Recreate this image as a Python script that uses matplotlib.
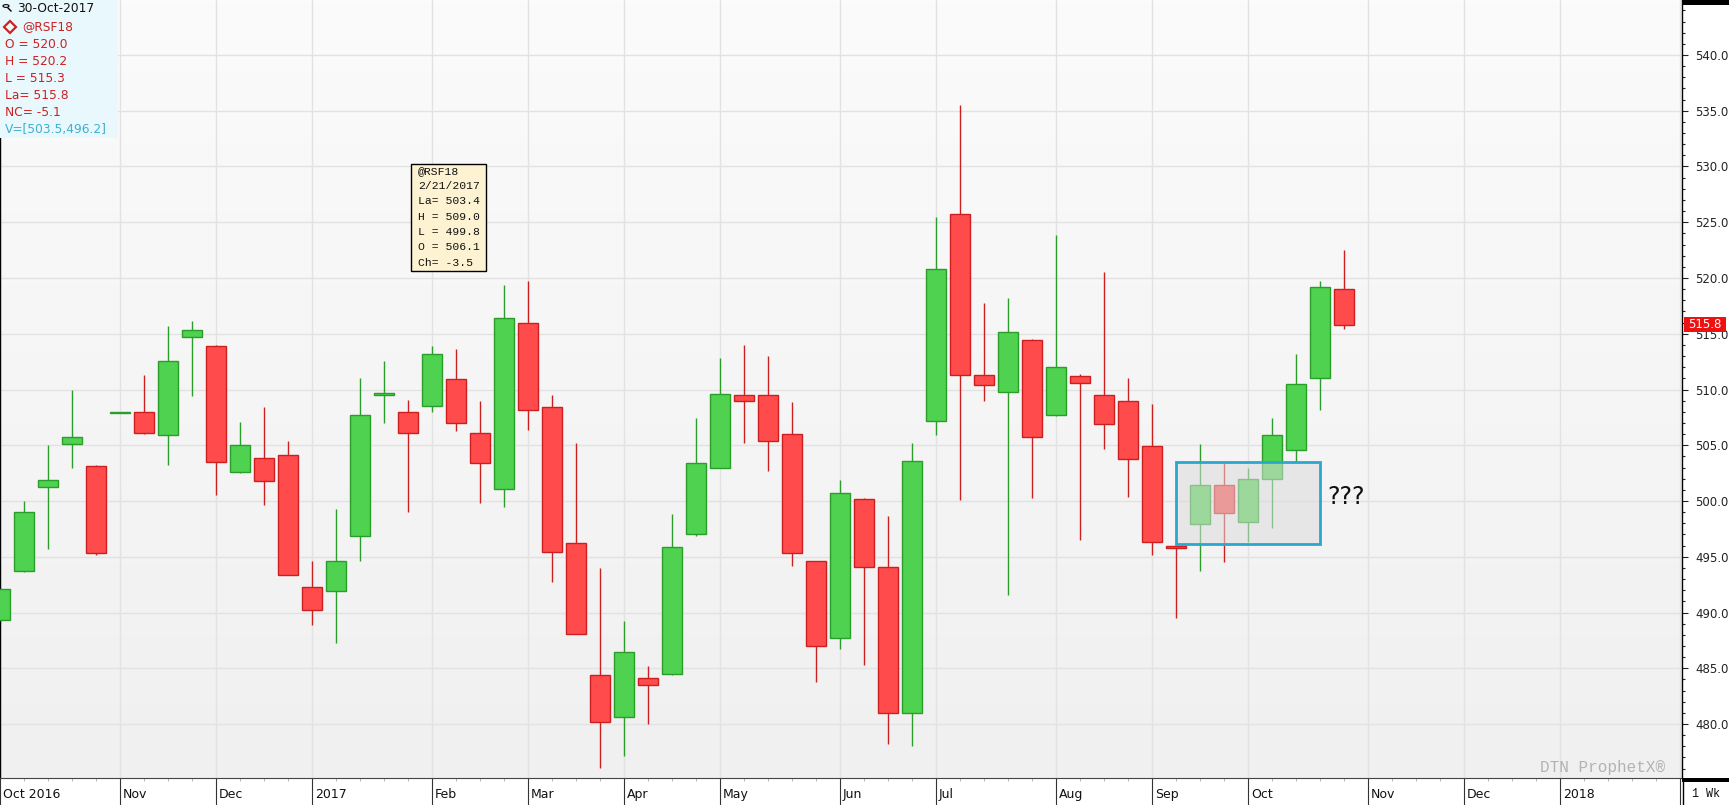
import numpy as np
import pandas as pd
import matplotlib
matplotlib.use("Agg")
import matplotlib.pyplot as plt
from matplotlib.patches import Rectangle
from matplotlib.colors import LinearSegmentedColormap
from matplotlib.transforms import blended_transform_factory
from matplotlib.ticker import MultipleLocator, FixedLocator

W, H, DPI = 1729, 805, 100

### data: weekly candles @RSF18, first week starts 3-Oct-2016
### ==================================================
opens = [489.3, 493.7, 501.3, 505.1, 503.1, 507.85, 508.0, 505.9, 514.7, 513.9,
         502.6, 503.9, 504.1, 492.3, 491.9, 496.9, 509.5, 508.0, 508.5, 510.9,
         506.1, 501.1, 516.0, 508.4, 496.2, 484.4, 480.6, 484.1, 484.5, 497.0,
         503.0, 509.5, 509.5, 506.0, 494.6, 487.7, 500.2, 494.1, 481.0, 507.2,
         525.7, 511.3, 509.8, 514.4, 507.7, 511.2, 509.5, 509.0, 504.9, 496.0,
         497.9, 501.4, 498.1, 502.0, 504.6, 511.0, 519.0]
highs = [492.3, 500.0, 505.0, 510.0, 503.2, 507.95, 511.3, 515.7, 516.1, 514.0,
         507.1, 508.4, 505.4, 494.6, 499.3, 511.0, 512.6, 509.1, 513.9, 513.6,
         509.0, 519.4, 519.7, 509.5, 505.2, 494.0, 489.2, 485.2, 498.8, 507.4,
         512.8, 514.0, 513.0, 508.9, 494.6, 501.9, 500.3, 498.7, 505.2, 525.5,
         535.5, 517.8, 518.2, 514.5, 523.9, 511.4, 520.5, 511.0, 508.7, 496.0,
         505.1, 503.5, 503.0, 507.4, 513.2, 519.7, 522.5]
lows = [489.0, 493.6, 495.7, 503.0, 495.2, 507.85, 506.0, 503.2, 509.4, 500.5,
        502.5, 499.6, 493.4, 488.9, 487.3, 494.6, 507.0, 499.0, 508.0, 506.3,
        499.8, 499.5, 506.4, 492.7, 488.1, 476.1, 477.1, 480.0, 484.4, 496.9,
        503.0, 505.2, 502.7, 494.2, 483.8, 486.7, 485.3, 478.2, 478.0, 505.9,
        500.1, 509.0, 491.6, 500.3, 507.6, 496.5, 504.7, 500.4, 495.2, 489.5,
        493.7, 494.5, 496.35, 497.6, 503.5, 508.2, 515.4]
closes = [492.1, 499.0, 501.9, 505.7, 495.3, 507.95, 506.1, 512.6, 515.3, 503.5,
          505.0, 501.8, 493.4, 490.2, 494.6, 507.7, 509.7, 506.1, 513.2, 507.0,
          503.4, 516.4, 508.2, 495.4, 488.1, 480.2, 486.5, 483.5, 495.9, 503.4,
          509.6, 509.0, 505.4, 495.3, 487.0, 500.7, 494.1, 481.0, 503.6, 520.8,
          511.3, 510.4, 515.2, 505.7, 512.0, 510.6, 506.9, 503.8, 496.3, 495.8,
          501.4, 498.9, 502.0, 505.9, 510.5, 519.2, 515.8]

month_labels = ['Oct 2016', 'Nov', 'Dec', '2017', 'Feb', 'Mar', 'Apr', 'May',
                'Jun', 'Jul', 'Aug', 'Sep', 'Oct', 'Nov', 'Dec', '2018']
y_ticks = [480, 485, 490, 495, 500, 505, 510, 515, 520, 525, 530, 535, 540]

info_lines = ['O = 520.0', 'H = 520.2', 'L = 515.3', 'La= 515.8', 'NC= -5.1']
tip_lines = ['@RSF18', '2/21/2017', 'La= 503.4', 'H = 509.0', 'L = 499.8',
             'O = 506.1', 'Ch= -3.5']
box_range = [503.47, 496.17]
last_close = 515.8


# pixel helpers (origin top-left, like the screenshot)
def fx(px):
    return px / W

def fy(py):
    return 1 - py / H


fig = plt.figure(figsize=(W / DPI, H / DPI), dpi=DPI)
fig.patch.set_facecolor('white')

plot_right, plot_bottom = 1682, 778
ax = fig.add_axes([0, fy(plot_bottom), fx(plot_right), plot_bottom / H])

x0, x1 = 0, plot_right / 24.0
y0, y1 = 475.16, 544.93
ax.set_xlim(x0, x1)
ax.set_ylim(y0, y1)

# soft gray gradient background
bg = LinearSegmentedColormap.from_list('bg', ['#fbfbfb', '#f0f0f0'])
ax.imshow(np.linspace(0, 1, 256).reshape(-1, 1), cmap=bg, aspect='auto',
          extent=[x0, x1, y0, y1], origin='upper', zorder=0)

# month boundaries from weekly dates
weeks = pd.date_range('2016-10-03', periods=71, freq='W-MON')
month_pos = [0] + [i for i in range(1, len(weeks)) if weeks[i].month != weeks[i - 1].month]

for v in y_ticks:
    ax.axhline(v, color='#e2e2e2', lw=1, zorder=1)
for p in month_pos:
    ax.axvline(p, color='#e2e2e2', lw=1, zorder=1)

### candles
### ==================================================
idx = np.arange(len(opens))
o = np.array(opens); c = np.array(closes)
up = c >= o
fill = np.where(up, '#4fd24f', '#ff4b4b')
edge = np.where(up, '#2a9d2a', '#cc1f1f')
bottoms = np.minimum(o, c)
heights = np.maximum(np.abs(c - o), 0.12)

ax.vlines(idx, lows, highs, colors=edge, lw=1, zorder=2)
ax.bar(idx, heights, bottom=bottoms, width=0.82, color=fill, edgecolor=edge,
       lw=1, zorder=3)

# highlighted range box
ax.add_patch(Rectangle((48.99, box_range[1]), 6.02, box_range[0] - box_range[1],
                       facecolor='#dcdcdc', alpha=0.55, edgecolor='none', zorder=4))
ax.add_patch(Rectangle((48.99, box_range[1]), 6.02, box_range[0] - box_range[1],
                       facecolor='none', edgecolor='#29a7cf', lw=2, zorder=5))
ax.text(55.3, 500.4, '???', fontsize=17, va='center', ha='left', color='#111111',
        zorder=6)

### axes styling
### ==================================================
ax.yaxis.tick_right()
ax.yaxis.set_major_locator(FixedLocator(y_ticks))
ax.yaxis.set_minor_locator(MultipleLocator(1))
ax.set_yticklabels(['{:.1f}'.format(v) for v in y_ticks])
ax.tick_params(axis='y', which='major', direction='out', length=4.3, width=0.8,
               pad=5, labelsize=8.5, colors='#222222')
ax.tick_params(axis='y', which='minor', direction='out', length=2.2, width=0.8,
               colors='#222222')

ax.xaxis.set_major_locator(FixedLocator(month_pos))
ax.xaxis.set_minor_locator(MultipleLocator(1))
ax.set_xticklabels([])
ax.tick_params(axis='x', which='major', direction='out', length=19.5, width=0.8,
               colors='#333333')
ax.tick_params(axis='x', which='minor', direction='out', length=2.5, width=0.6,
               colors='#aaaaaa')

trans = blended_transform_factory(ax.transData, ax.transAxes)
for p, lab in zip(month_pos, month_labels):
    ax.text(p + 0.12, -16 / plot_bottom, lab, transform=trans, fontsize=9,
            va='center', ha='left', color='#111111')

for side in ['left', 'right']:
    ax.spines[side].set_color('black')
    ax.spines[side].set_linewidth(1)
ax.spines['bottom'].set_color('#444444')
ax.spines['top'].set_visible(False)

### figure-level decorations
### ==================================================
fig.patches.append(Rectangle((fx(1682), fy(5)), fx(47), 5 / H, transform=fig.transFigure,
                             facecolor='black', edgecolor='none'))
fig.patches.append(Rectangle((fx(1682), fy(782)), fx(47), 4 / H, transform=fig.transFigure,
                             facecolor='black', edgecolor='none'))
fig.lines.append(plt.Line2D([fx(1683), fx(1683)], [fy(782), 0], transform=fig.transFigure,
                            color='black', lw=1))
fig.text(fx(1706), fy(794), '1 Wk', family='Liberation Mono', fontsize=8.5,
         ha='center', va='center', color='#111111')

# last price marker
fig.patches.append(Rectangle((fx(1684), fy(332)), fx(42), 15 / H, transform=fig.transFigure,
                             facecolor='#ee1111', edgecolor='none', zorder=5))
fig.text(fx(1688), fy(324.5), '{:.1f}'.format(last_close), fontsize=8.5, color='white',
         ha='left', va='center', zorder=6)

# watermark
fig.text(fx(1540), fy(767), 'DTN ProphetX®', family='Liberation Mono', fontsize=11.5,
         color='#b3b3b3', ha='left', va='center')

# info panel, top left
fig.patches.append(Rectangle((0, fy(138)), fx(118), 138 / H, transform=fig.transFigure,
                             facecolor='#e8f8fd', edgecolor='none', zorder=5))
fig.patches.append(plt.Circle((fx(6), fy(6)), 3.0 / W, transform=fig.transFigure,
                              facecolor='none', edgecolor='black', lw=0.8, zorder=6))
fig.lines.append(plt.Line2D([fx(8), fx(11)], [fy(8), fy(11)], transform=fig.transFigure,
                            color='black', lw=1, zorder=6))
fig.text(fx(17), fy(9), '30-Oct-2017', fontsize=8.8, color='#111111', va='center',
         ha='left', zorder=6)
fig.lines.append(plt.Line2D([fx(10)], [fy(26.7)], transform=fig.transFigure, marker='D',
                            markersize=6, markerfacecolor='none', markeredgecolor='#cc2222',
                            markeredgewidth=1.6, zorder=6))
fig.text(fx(22), fy(26.7), '@RSF18', fontsize=8.8, color='#cc2222', va='center',
         ha='left', zorder=6)
for k, line in enumerate(info_lines):
    fig.text(fx(5), fy(44 + 17.1 * k), line, fontsize=8.8, color='#cc2222',
             va='center', ha='left', zorder=6)
fig.text(fx(5), fy(129), 'V=[{},{}]'.format(503.5, 496.2), fontsize=8.8, color='#3fb0d0',
         va='center', ha='left', zorder=6)

# hover tooltip
fig.patches.append(Rectangle((fx(410.5), fy(271)), fx(75.5), 107 / H,
                             transform=fig.transFigure, facecolor='#fdf2d2',
                             edgecolor='black', lw=1, zorder=5))
for k, line in enumerate(tip_lines):
    fig.text(fx(418), fy(170.7 + 15.3 * k), line, family='Liberation Mono', fontsize=8.2,
             color='#111111', va='center', ha='left', zorder=6)

fig.savefig('out.png', dpi=DPI)
